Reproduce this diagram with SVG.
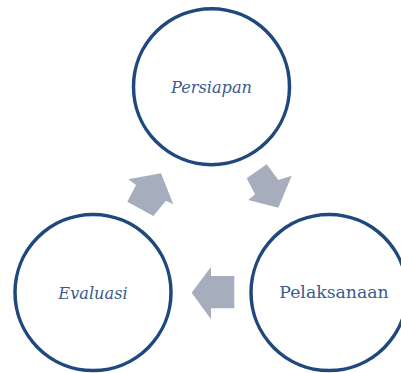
<svg xmlns="http://www.w3.org/2000/svg" width="401" height="373" viewBox="0 0 401 373">
<style>
.node circle{fill:#ffffff;stroke:#1f497d;stroke-width:3.5}
.lbl{font-family:"DejaVu Serif","Liberation Serif",serif;font-size:17.3px;fill:#3b5b8c;text-anchor:middle}
.it{font-style:italic;font-size:16.2px}
.arr{fill:#a6adbc}
</style>
<rect width="401" height="373" fill="#ffffff"/>
<g id="connectors">
<polygon class="arr" points="128.3,179.3 136,185 127.3,201.7 153.3,216 166,200.7 173.3,204.3 161,173.3"/>
<polygon class="arr" points="246.7,178.3 266.7,164.3 278.3,180 291.7,175.7 278.3,207.7 248.3,200 255,194.3"/>
<polygon class="arr" points="191.7,292.7 211,266.7 211,276 234.3,276 234.3,308.3 211,308.3 211,319.3"/>
</g>
<g id="persiapan" class="node">
<circle cx="211.5" cy="86.7" r="78"/>
<text class="lbl it" x="211.5" y="93.3">Persiapan</text>
</g>
<g id="pelaksanaan" class="node">
<circle cx="329" cy="292.5" r="78"/>
<text class="lbl" x="334" y="298.3">Pelaksanaan</text>
</g>
<g id="evaluasi" class="node">
<circle cx="93" cy="292.5" r="78"/>
<text class="lbl it" x="93" y="299.3">Evaluasi</text>
</g>
</svg>
